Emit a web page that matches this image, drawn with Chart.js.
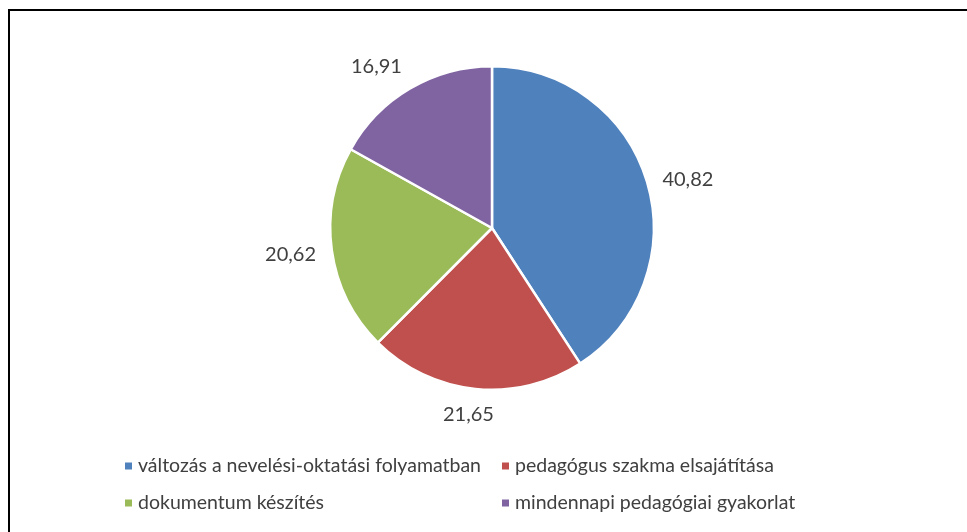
<!DOCTYPE html>
<html>
<head>
<meta charset="utf-8">
<script src="https://cdn.jsdelivr.net/npm/chart.js@4.4.1/dist/chart.umd.min.js"></script>
<style>
  html, body { margin: 0; padding: 0; background: #fff; overflow: hidden; }
  #wrap { position: relative; width: 967px; height: 532px; }
  #frame { position: absolute; left: 8px; top: 9px; width: 1000px; height: 600px;
           border: 2px solid #000; box-sizing: border-box; }
  #pieChart { position: absolute; left: 0; top: 0; }
</style>
</head>
<body>
<div id="wrap">
  <div id="frame"></div>
  <canvas id="pieChart" width="967" height="532"></canvas>
</div>
<script>
// Dữ liệu biểu đồ
const labels = [
    "változás a nevelési-oktatási folyamatban",
    "pedagógus szakma elsajátítása",
    "dokumentum készítés",
    "mindennapi pedagógiai gyakorlat"
];
const values = [40.82, 21.65, 20.62, 16.91];
const valueLabels = ["40,82", "21,65", "20,62", "16,91"];
const colors = ["#4F81BD", "#C0504D", "#9BBB59", "#8064A2"];

const FONT = "Lato, 'Open Sans', sans-serif";
const TEXT_COLOR = "#404040";

// Nhãn giá trị bên ngoài lát bánh
const outsideLabelPlugin = {
    id: 'outsideLabels',
    afterDatasetsDraw(chart) {
        const ctx = chart.ctx;
        const meta = chart.getDatasetMeta(0);
        const size = 20;
        ctx.save();
        ctx.font = size + "px " + FONT;
        ctx.fillStyle = TEXT_COLOR;
        ctx.textAlign = 'center';
        ctx.textBaseline = 'middle';
        meta.data.forEach((arc, i) => {
            const p = arc.getProps(['x', 'y', 'startAngle', 'endAngle', 'outerRadius'], true);
            const mid = (p.startAngle + p.endAngle) / 2;
            const c = Math.cos(mid), s = Math.sin(mid);
            const w = ctx.measureText(valueLabels[i]).width;
            const gap = 16;
            // dịch hộp chữ ra ngoài theo hướng lát
            const kx = Math.sign(c) * Math.min(1, Math.abs(c) * 2);
            const x = p.x + (p.outerRadius + gap) * c + kx * w / 2;
            const y = p.y + (p.outerRadius + gap) * s + s * size / 2 + (s < 0 && c > 0 ? 5 : 0);
            ctx.fillText(valueLabels[i], x, y);
        });
        ctx.restore();
    }
};

// Chú giải dạng lưới hai cột
const gridLegendPlugin = {
    id: 'gridLegend',
    afterDraw(chart) {
        const ctx = chart.ctx;
        const colX = [125, 502];
        const rowY = [466, 503];
        const box = 7;
        ctx.save();
        ctx.font = "19.5px " + FONT;
        ctx.textBaseline = 'middle';
        ctx.textAlign = 'left';
        labels.forEach((text, i) => {
            const x = colX[i % 2];
            const y = rowY[Math.floor(i / 2)];
            ctx.fillStyle = colors[i];
            ctx.fillRect(x, y - box / 2, box, box);
            ctx.fillStyle = TEXT_COLOR;
            ctx.fillText(text, x + 13, y);
        });
        ctx.restore();
    }
};

const ctx = document.getElementById('pieChart').getContext('2d');
window.myChart = new Chart(ctx, {
    type: 'pie',
    data: {
        labels: labels,
        datasets: [{
            data: values,
            backgroundColor: colors,
            borderColor: '#ffffff',
            borderWidth: 2.5
        }]
    },
    options: {
        responsive: false,
        animation: false,
        layout: {
            padding: { left: 329, right: 312, top: 65, bottom: 141 }
        },
        plugins: {
            legend: { display: false },
            tooltip: { enabled: false }
        }
    },
    plugins: [outsideLabelPlugin, gridLegendPlugin]
});
</script>
</body>
</html>
